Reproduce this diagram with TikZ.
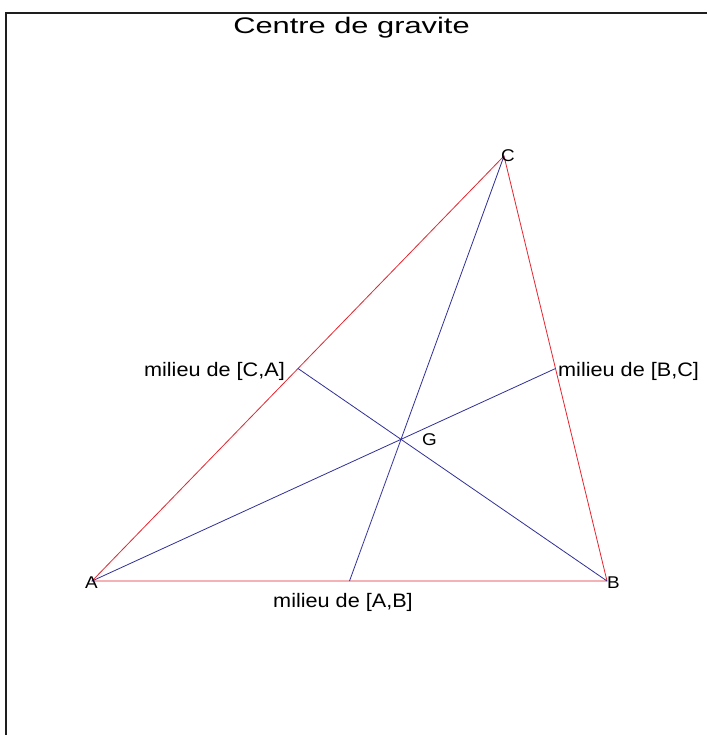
\documentclass[tikz,border=0pt]{standalone}
\usepackage{fontspec}
\setmainfont{Liberation Sans}
\usetikzlibrary{calc}
\definecolor{sidered}{RGB}{228,38,48}
\definecolor{medblue}{RGB}{48,48,150}
\definecolor{framegray}{RGB}{30,30,30}
\newcommand{\wideA}[1]{\scalebox{1.11}[1]{#1}}
\newcommand{\wideT}[1]{\scalebox{1.37}[1]{#1}}
\begin{document}
\begin{tikzpicture}[x=1pt,y=-1pt,
  side/.style={draw=sidered,line width=0.8pt},
  median/.style={draw=medblue,line width=0.8pt},
  lbl/.style={inner sep=0pt,font=\fontsize{17}{19}\selectfont,text=black},
  mlbl/.style={inner sep=0pt,font=\fontsize{19.5}{22}\selectfont,text=black},
  ttl/.style={inner sep=0pt,font=\fontsize{22.5}{26}\selectfont,text=black}]
\useasboundingbox (0,0) rectangle (707,735);
\fill[white] (0,0) rectangle (707,735);
% frame
\draw[framegray,line width=2pt] (6,735) -- (6,12.7) -- (707,12.7);
% vertices
\coordinate (A) at (92,581);
\coordinate (B) at (607,581);
\coordinate (C) at (504,156);
\coordinate (MAB) at ($(A)!0.5!(B)$);
\coordinate (MBC) at ($(B)!0.5!(C)$);
\coordinate (MCA) at ($(C)!0.5!(A)$);
\coordinate (G) at (401.0,439.3);
% sides
\draw[side] (A) -- (B) -- (C) -- cycle;
% medians
\draw[median] (A) -- (MBC);
\draw[median] (B) -- (MCA);
\draw[median] (C) -- (MAB);
% labels
\node[ttl,anchor=base] (title) at (351.5,33.3) {\wideT{Centre de gravite}};
\node[lbl,anchor=base] (la) at (91.5,588) {\wideA{A}};
\node[lbl,anchor=base west] (lb) at (607,588) {\wideA{B}};
\node[lbl,anchor=base west] (lc) at (501,162) {\wideA{C}};
\node[lbl,anchor=base west] (lg) at (422,445) {\wideA{G}};
\node[mlbl,anchor=base east] (lca) at (285,376.3) {\wideA{milieu de [C,A]}};
\node[mlbl,anchor=base west] (lbc) at (558,376.3) {\wideA{milieu de [B,C]}};
\node[mlbl,anchor=base] (lab) at (343,607) {\wideA{milieu de [A,B]}};
\end{tikzpicture}
\end{document}
